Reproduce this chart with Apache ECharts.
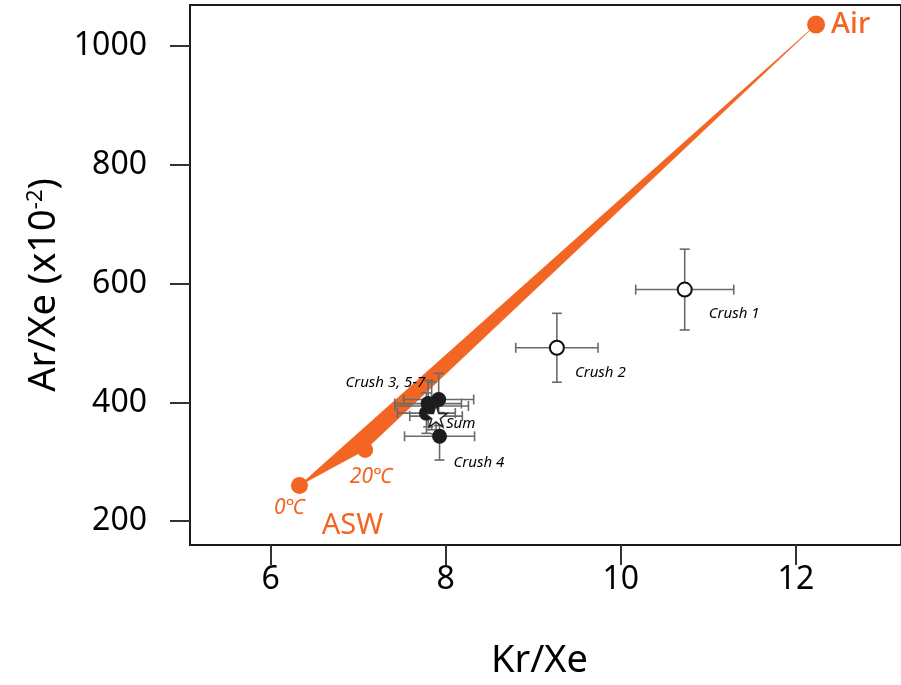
<!DOCTYPE html>
<html>
<head>
<meta charset="utf-8">
<script src="https://cdn.jsdelivr.net/npm/echarts@6/dist/echarts.min.js"></script>
<style>
html,body{margin:0;padding:0;background:#fff;}
#c{width:901px;height:685px;}
</style>
</head>
<body>
<div id="c"></div>
<script>
// ---- data ----
const xTicks = [6, 8, 10, 12];
const yTicks = [200, 400, 600, 800, 1000];

const airPoint = [12.23, 1036];
const asw0C = [6.33, 260];
const asw20C = [7.08, 320];

const openLabels = ['Crush 1', 'Crush 2'];
const openKrXe = [10.73, 9.27];
const openArXe = [590, 492];
const openKrErr = [0.56, 0.47];
const openArErr = [68, 58];

const filledLabels = ['Crush 3', 'Crush 5', 'Crush 6', 'Crush 7', 'Crush 4'];
const filledKrXe = [7.92, 7.80, 7.78, 7.84, 7.93];
const filledArXe = [405, 398, 382, 394, 343];
const filledKrErr = [0.40, 0.38, 0.33, 0.42, 0.40];
const filledArErr = [44, 39, 34, 40, 40];

const sumPoint = [7.89, 377];
const sumErr = [0.30, 30];

// ---- styles ----
const ORANGE = '#F26522';
const FONT = 'Noto Sans';

const chart = echarts.init(document.getElementById('c'));

const errData = [];
openKrXe.forEach((x, i) => errData.push([x, openArXe[i], openKrErr[i], openArErr[i]]));
filledKrXe.forEach((x, i) => errData.push([x, filledArXe[i], filledKrErr[i], filledArErr[i]]));
errData.push([sumPoint[0], sumPoint[1], sumErr[0], sumErr[1]]);

const labelOffsets = {
  'Crush 1': [24, 24],
  'Crush 2': [18, 25],
  'Crush 4': [14, 26]
};
const italicLabel = {
  show: true, position: 'inside', align: 'left', verticalAlign: 'middle',
  fontFamily: FONT, fontStyle: 'italic', fontSize: 15, color: '#000'
};

const openData = openKrXe.map((x, i) => ({
  name: openLabels[i], value: [x, openArXe[i]],
  label: Object.assign({}, italicLabel, {formatter: openLabels[i], offset: labelOffsets[openLabels[i]]})
}));
const filledData = filledKrXe.map((x, i) => {
  const n = filledLabels[i];
  const d = {name: n, value: [x, filledArXe[i]]};
  if (n === 'Crush 4') {
    d.label = Object.assign({}, italicLabel, {formatter: n, offset: labelOffsets[n]});
  } else if (n === 'Crush 5') {
    d.label = Object.assign({}, italicLabel, {formatter: 'Crush 3, 5-7', align: 'right', offset: [-3, -21]});
  }
  return d;
});

const starPath = 'path://M50,0 L61.8,35.4 L99,35.4 L69,57.3 L80.4,92.7 L50,70.8 L19.6,92.7 L31,57.3 L1,35.4 L38.2,35.4 Z';

const option = {
  animation: false,
  backgroundColor: '#fff',
  grid: {
    left: 190, top: 5, width: 717, height: 540,
    show: true, borderColor: '#1a1a1a', borderWidth: 2, backgroundColor: 'transparent'
  },
  xAxis: {
    type: 'value', min: 5.08, max: 13.2,
    name: 'Kr/Xe', nameLocation: 'middle', nameGap: 97,
    nameTextStyle: {fontFamily: FONT, fontSize: 38, color: '#000', padding: [0, 12, 0, 0]},
    axisLine: {show: true, onZero: false, lineStyle: {color: '#1a1a1a', width: 2}},
    axisTick: {show: true, length: 20, customValues: xTicks, lineStyle: {color: '#333', width: 2}},
    axisLabel: {customValues: xTicks, margin: 19, fontFamily: FONT, fontSize: 32, color: '#000',
      formatter: v => String(v)},
    splitLine: {show: false}
  },
  yAxis: {
    type: 'value', min: 160, max: 1069,
    name: '{a|Ar/Xe (x10}{s|-2}{a|)}', nameLocation: 'middle', nameGap: 126, nameRotate: 90,
    nameTextStyle: {
      padding: [0, 20, 0, 0],
      rich: {
        a: {fontFamily: FONT, fontSize: 38, color: '#000'},
        s: {fontFamily: FONT, fontSize: 22, color: '#000', verticalAlign: 'top', padding: [0, 0, 16, 0]}
      }
    },
    axisLine: {show: true, onZero: false, lineStyle: {color: '#1a1a1a', width: 2}},
    axisTick: {show: true, length: 20, customValues: yTicks, lineStyle: {color: '#333', width: 2}},
    axisLabel: {customValues: yTicks, margin: 43, fontFamily: FONT, fontSize: 32, color: '#000',
      formatter: v => String(v)},
    splitLine: {show: false}
  },
  series: [
    {
      type: 'custom', z: 1, silent: true,
      data: [0],
      renderItem: function (params, api) {
        const pts = [api.coord(asw0C), api.coord(airPoint), api.coord(asw20C)];
        return {type: 'polygon', shape: {points: pts}, style: {fill: ORANGE, stroke: ORANGE, lineWidth: 0.5}};
      }
    },
    {
      type: 'custom', z: 2, silent: true,
      data: errData,
      renderItem: function (params, api) {
        const x = api.value(0), y = api.value(1), ex = api.value(2), ey = api.value(3);
        const l = api.coord([x - ex, y]), r = api.coord([x + ex, y]);
        const t = api.coord([x, y + ey]), b = api.coord([x, y - ey]);
        const cap = 5;
        const st = {stroke: '#6a6a6a', lineWidth: 1.6};
        return {
          type: 'group',
          children: [
            {type: 'line', shape: {x1: l[0], y1: l[1], x2: r[0], y2: r[1]}, style: st},
            {type: 'line', shape: {x1: l[0], y1: l[1] - cap, x2: l[0], y2: l[1] + cap}, style: st},
            {type: 'line', shape: {x1: r[0], y1: r[1] - cap, x2: r[0], y2: r[1] + cap}, style: st},
            {type: 'line', shape: {x1: t[0], y1: t[1], x2: b[0], y2: b[1]}, style: st},
            {type: 'line', shape: {x1: t[0] - cap, y1: t[1], x2: t[0] + cap, y2: t[1]}, style: st},
            {type: 'line', shape: {x1: b[0] - cap, y1: b[1], x2: b[0] + cap, y2: b[1]}, style: st}
          ]
        };
      }
    },
    {
      type: 'scatter', z: 3, symbol: 'circle', symbolSize: 14,
      itemStyle: {color: '#fff', borderColor: '#111', borderWidth: 2, opacity: 1},
      data: openData
    },
    {
      type: 'scatter', z: 4, symbol: 'circle', symbolSize: 15,
      itemStyle: {color: '#1c1c1c', opacity: 1},
      data: filledData
    },
    {
      type: 'scatter', z: 5, symbol: starPath, symbolSize: 22,
      itemStyle: {color: '#fff', borderColor: '#222', borderWidth: 1.5, opacity: 1},
      data: [{name: 'Sum', value: sumPoint,
        label: Object.assign({}, italicLabel, {formatter: 'Sum', offset: [10, 8]})}]
    },
    {
      type: 'scatter', z: 6, symbol: 'circle',
      itemStyle: {color: ORANGE, opacity: 1},
      data: [
        {name: 'Air', value: airPoint, symbolSize: 18,
          label: {show: true, position: 'inside', align: 'left', verticalAlign: 'middle', offset: [15, 0],
            formatter: 'Air', fontFamily: FONT, fontSize: 29, fontWeight: 500, color: ORANGE}},
        {name: '0℃', value: asw0C, symbolSize: 17,
          label: {show: true, position: 'inside', align: 'center', verticalAlign: 'middle', offset: [-10, 22],
            formatter: '0℃', fontFamily: FONT, fontStyle: 'italic', fontSize: 21, color: ORANGE}},
        {name: '20℃', value: asw20C, symbolSize: 16,
          label: {show: true, position: 'inside', align: 'center', verticalAlign: 'middle', offset: [6, 27],
            formatter: '20℃', fontFamily: FONT, fontStyle: 'italic', fontSize: 21, color: ORANGE}}
      ]
    },
    {
      type: 'scatter', z: 6, symbolSize: 0, silent: true,
      itemStyle: {color: ORANGE, opacity: 1},
      data: [{name: 'ASW', value: asw0C,
        label: {show: true, position: 'inside', align: 'center', verticalAlign: 'middle', offset: [53, 40],
          formatter: 'ASW', fontFamily: FONT, fontSize: 29, color: ORANGE}}]
    }
  ]
};
chart.setOption(option);
</script>
</body>
</html>
